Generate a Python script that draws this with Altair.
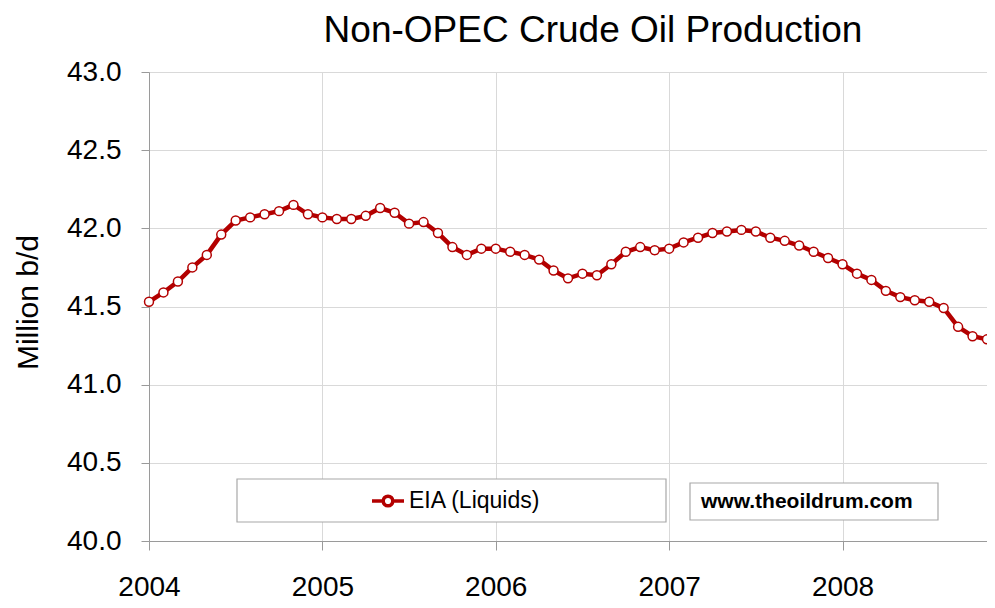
import altair as alt
import pandas as pd

TITLE = "Non-OPEC Crude Oil Production"
SERIES = "EIA (Liquids)"
CREDIT = "www.theoildrum.com"
Y_TITLE = "Million b/d"

# Monthly categories Jan 2004 .. Nov 2008
MONTHS = [f"{y}-{m:02d}" for y in range(2004, 2009) for m in range(1, 13)][:59]

# Non-OPEC liquids production, million b/d
VALUES = [
    41.53, 41.59, 41.66, 41.75, 41.83, 41.96, 42.05, 42.07, 42.09, 42.11, 42.15, 42.09,
    42.07, 42.06, 42.06, 42.08, 42.13, 42.10, 42.03, 42.04, 41.97, 41.88, 41.83, 41.87,
    41.87, 41.85, 41.83, 41.80, 41.73, 41.68, 41.71, 41.70, 41.77, 41.85, 41.88, 41.86,
    41.87, 41.91, 41.94, 41.97, 41.98, 41.99, 41.98, 41.94, 41.92, 41.89, 41.85, 41.81,
    41.77, 41.71, 41.67, 41.60, 41.56, 41.54, 41.53, 41.49, 41.37, 41.31, 41.29,
]

YEAR_TICKS = [2004, 2005, 2006, 2007, 2008]
Y_TICKS = [40.0, 40.5, 41.0, 41.5, 42.0, 42.5, 43.0]

RED = "#b30000"
GRID = "#d9d9d9"
AXIS = "#9a9a9a"
FONT = "Liberation Sans"

df = pd.DataFrame({
    "month": MONTHS,
    "t": [int(m[:4]) + (int(m[5:]) - 1) / 12 for m in MONTHS],
    "value": VALUES,
    "series": SERIES,
})

x_enc = alt.X(
    "t:Q",
    scale=alt.Scale(domain=[2004, 2004 + 58 / 12], nice=False, zero=False),
    axis=alt.Axis(
        values=YEAR_TICKS, format="d", title=None, grid=True, gridColor=GRID,
        tickSize=9, tickColor=AXIS, domainColor=AXIS, labelFontSize=28,
        labelFont=FONT, labelColor="black", labelPadding=23, labelFlush=False,
        labelOverlap=False,
    ),
)
y_enc = alt.Y(
    "value:Q",
    scale=alt.Scale(domain=[40, 43], nice=False, zero=False),
    axis=alt.Axis(
        values=Y_TICKS, format=".1f", title=Y_TITLE, grid=True, gridColor=GRID,
        tickSize=8, tickColor=AXIS, domainColor=AXIS, labelFontSize=28,
        labelFont=FONT, labelColor="black", labelPadding=20,
        titleFont=FONT, titleFontSize=30, titleFontWeight="normal", titleColor="black",
        titleX=-112, titleY=230, titleAngle=270, titleBaseline="alphabetic",
        titleAlign="center",
    ),
)

SYMBOL = "M-1,0H-0.3M0.3,0H1M0.3,0A0.3,0.3,0,1,1,-0.3,0A0.3,0.3,0,1,1,0.3,0Z"

line = alt.Chart(df).mark_line(strokeWidth=4.5).encode(
    x=x_enc,
    y=y_enc,
    color=alt.Color(
        "series:N",
        scale=alt.Scale(domain=[SERIES], range=[RED]),
        legend=alt.Legend(
            orient="none", legendX=221, legendY=411, title=None,
            symbolType=SYMBOL, symbolSize=1024, symbolStrokeWidth=3.5,
            symbolFillColor="white", symbolStrokeColor=RED,
            labelFontSize=23, labelFont=FONT, labelColor="black", labelOffset=3,
            padding=0,
        ),
    ),
)

points = alt.Chart(df).mark_point(
    filled=True, fill="white", stroke=RED, strokeWidth=1.5, size=80, opacity=1
).encode(x="t:Q", y="value:Q")

one = alt.Data(values=[{}])
box1 = alt.Chart(one).mark_rect(fill="white", stroke="#a8a8a8", strokeWidth=1.2).encode(
    x=alt.value(88), x2=alt.value(517), y=alt.value(407), y2=alt.value(450)
)
box2 = alt.Chart(one).mark_rect(fill="white", stroke="#a8a8a8", strokeWidth=1.2).encode(
    x=alt.value(541), x2=alt.value(789), y=alt.value(411), y2=alt.value(448)
)
credit = alt.Chart(one).mark_text(
    font=FONT, fontSize=21, fontWeight="bold", color="black", align="left", baseline="middle"
).encode(x=alt.value(552), y=alt.value(429.5), text=alt.value(CREDIT))

title = alt.Chart(one).mark_text(
    font=FONT, fontSize=37, fontWeight="normal", color="black", align="center",
    baseline="alphabetic",
).encode(x=alt.value(444), y=alt.value(-30), text=alt.value(TITLE))

chart = alt.layer(box1, box2, credit, title, line, points).properties(
    width=838,
    height=469,
    autosize=alt.AutoSizeParams(type="none"),
    padding={"left": 141, "top": 64, "right": 0, "bottom": 62},
).configure_view(
    fill="#f8f8f8", stroke="#cccccc", strokeWidth=1.5
).configure(background="white")

chart.save("out.html", embed_options={"renderer": "svg", "actions": False})
